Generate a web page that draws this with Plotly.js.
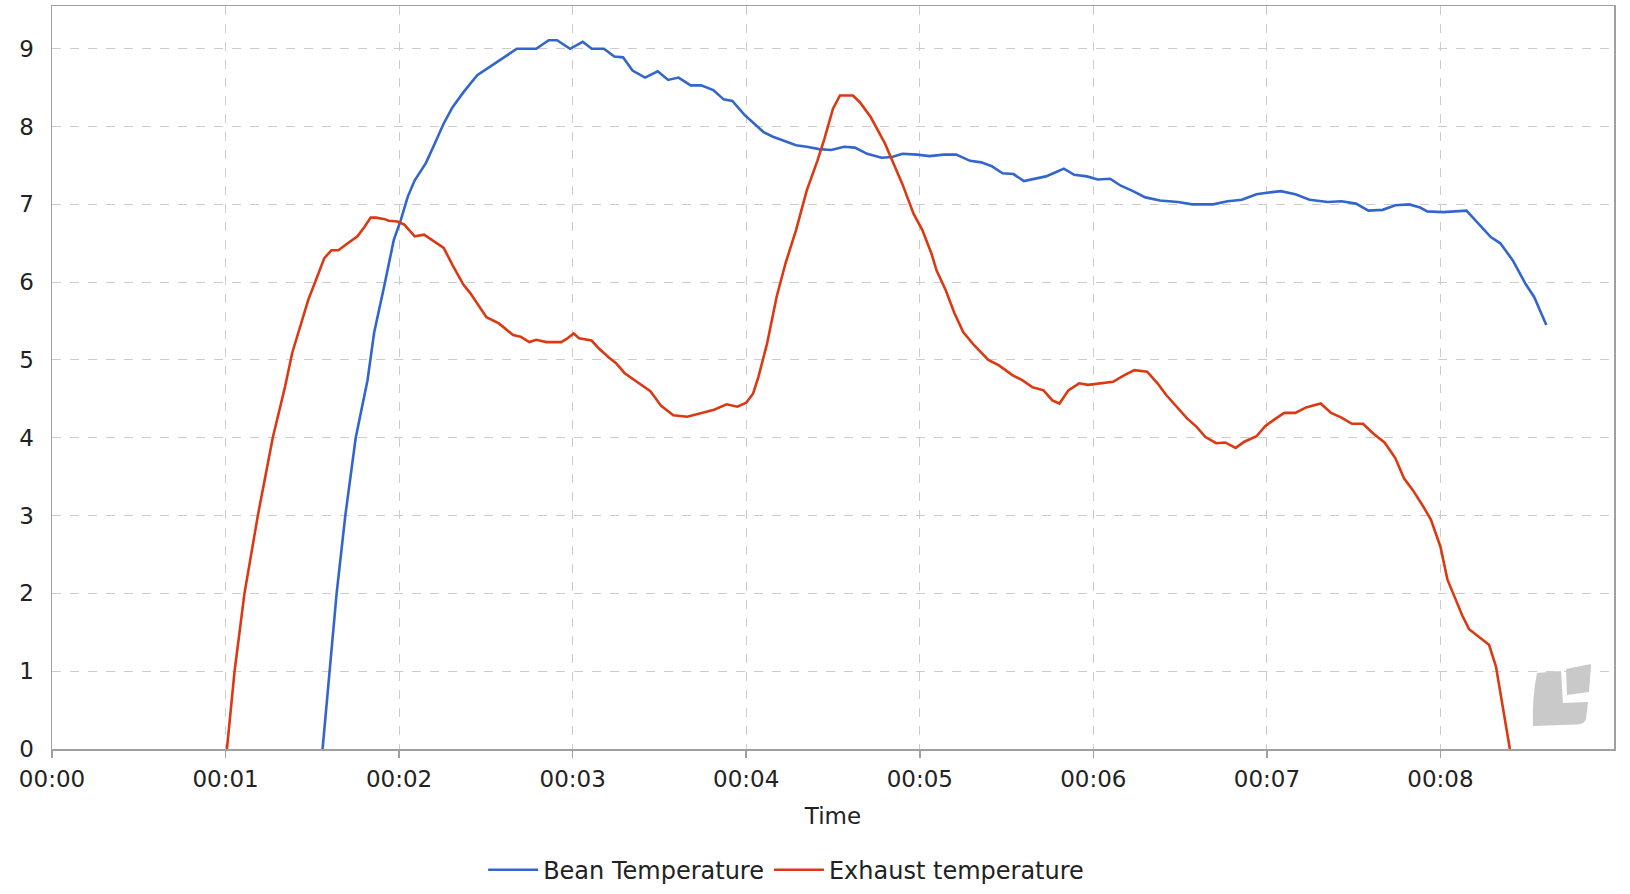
<!DOCTYPE html>
<html>
<head>
<meta charset="utf-8">
<script src="https://cdn.plot.ly/plotly-3.0.1.min.js"></script>
<style>
  html, body { margin: 0; padding: 0; background: #fff; }
  #chart { width: 1630px; height: 894px; }
</style>
</head>
<body>
<div id="chart"></div>
<script>
// ---- Data (time in seconds) ----
const tickValues = [0, 1, 2, 3, 4, 5, 6, 7, 8];
const tickLabels = ["00:00", "00:01", "00:02", "00:03", "00:04", "00:05", "00:06", "00:07", "00:08"];

const beanTime = [1.559,1.598,1.64,1.69,1.75,1.818,1.856,1.918,1.969,2.01,2.05,2.09,2.154,2.205,2.257,2.308,2.37,2.45,2.554,2.678,2.79,2.862,2.91,2.985,3.058,3.11,3.18,3.24,3.29,3.345,3.417,3.49,3.55,3.61,3.68,3.74,3.81,3.87,3.92,3.99,4.05,4.10,4.154,4.215,4.287,4.349,4.42,4.49,4.564,4.626,4.697,4.78,4.84,4.90,4.985,5.056,5.138,5.21,5.29,5.354,5.415,5.477,5.54,5.60,5.655,5.727,5.78,5.83,5.89,5.963,6.025,6.097,6.158,6.22,6.30,6.384,6.487,6.57,6.69,6.774,6.856,6.94,7.0,7.08,7.164,7.246,7.35,7.43,7.513,7.585,7.667,7.74,7.82,7.883,7.924,8.016,8.15,8.21,8.29,8.345,8.417,8.49,8.54,8.61];
const beanTemp = [0,1,2,3,4,4.74,5.35,5.99,6.54,6.80,7.10,7.31,7.53,7.78,8.04,8.25,8.44,8.66,8.81,9.0,9.0,9.11,9.11,9.0,9.09,9.0,9.0,8.90,8.89,8.72,8.63,8.71,8.60,8.63,8.53,8.53,8.47,8.35,8.33,8.15,8.03,7.93,7.87,7.82,7.76,7.74,7.71,7.70,7.74,7.73,7.65,7.60,7.61,7.65,7.64,7.62,7.64,7.64,7.56,7.54,7.49,7.40,7.39,7.30,7.33,7.36,7.41,7.46,7.38,7.36,7.32,7.33,7.24,7.18,7.09,7.05,7.03,7.0,7.0,7.04,7.06,7.13,7.15,7.17,7.13,7.06,7.03,7.04,7.01,6.92,6.93,6.99,7.0,6.96,6.91,6.90,6.92,6.77,6.58,6.50,6.28,5.98,5.81,5.45];

const exhaustTime = [1.008,1.052,1.109,1.186,1.272,1.343,1.384,1.435,1.476,1.528,1.569,1.61,1.65,1.71,1.76,1.80,1.836,1.867,1.918,1.94,1.99,2.03,2.09,2.144,2.205,2.257,2.308,2.37,2.41,2.45,2.503,2.575,2.657,2.70,2.75,2.79,2.85,2.934,2.965,3.006,3.037,3.109,3.15,3.21,3.25,3.30,3.365,3.448,3.51,3.58,3.66,3.745,3.815,3.887,3.949,4.0,4.04,4.07,4.12,4.175,4.226,4.287,4.349,4.41,4.45,4.50,4.54,4.615,4.656,4.718,4.76,4.80,4.85,4.90,4.964,5.015,5.067,5.097,5.149,5.20,5.25,5.313,5.395,5.456,5.538,5.59,5.65,5.713,5.764,5.805,5.856,5.918,5.97,6.05,6.113,6.174,6.236,6.31,6.37,6.42,6.48,6.54,6.595,6.646,6.708,6.76,6.82,6.87,6.94,6.99,7.04,7.10,7.164,7.226,7.31,7.37,7.43,7.49,7.554,7.616,7.678,7.74,7.79,7.84,7.90,7.945,8.0,8.04,8.088,8.127,8.165,8.232,8.28,8.32,8.347,8.376,8.40];
const exhaustTemp = [0,1,2,3,4,4.66,5.09,5.47,5.77,6.07,6.31,6.41,6.41,6.51,6.59,6.71,6.83,6.83,6.81,6.79,6.78,6.74,6.59,6.61,6.52,6.44,6.22,5.97,5.86,5.73,5.55,5.47,5.32,5.30,5.23,5.26,5.23,5.23,5.27,5.34,5.28,5.25,5.15,5.03,4.96,4.83,4.73,4.60,4.41,4.29,4.27,4.32,4.36,4.43,4.40,4.45,4.57,4.78,5.21,5.81,6.24,6.67,7.18,7.56,7.84,8.23,8.40,8.40,8.31,8.12,7.95,7.78,7.52,7.26,6.88,6.67,6.37,6.15,5.90,5.60,5.36,5.19,5.0,4.93,4.80,4.74,4.65,4.61,4.48,4.44,4.61,4.70,4.68,4.70,4.72,4.80,4.87,4.85,4.70,4.55,4.40,4.25,4.14,4.01,3.93,3.94,3.87,3.95,4.02,4.15,4.23,4.32,4.32,4.39,4.44,4.32,4.26,4.18,4.18,4.05,3.94,3.74,3.48,3.33,3.12,2.95,2.6,2.18,1.92,1.71,1.54,1.43,1.34,1.06,0.72,0.33,0];

const seriesNames = ["Bean Temperature", "Exhaust temperature"];
const seriesColors = ["#3366cc", "#dc3912"];

// ---- Chart ----
const FONT = "DejaVu Sans, sans-serif";
const FS = 23;

const traces = [
  { x: beanTime, y: beanTemp, name: seriesNames[0], type: "scatter", mode: "lines",
    line: { color: seriesColors[0], width: 2.6 } },
  { x: exhaustTime, y: exhaustTemp, name: seriesNames[1], type: "scatter", mode: "lines",
    line: { color: seriesColors[1], width: 2.6 } }
];

const logoColor = "#c9c9c9";
const layout = {
  width: 1630, height: 894,
  margin: { l: 52, r: 16, t: 6, b: 145, autoexpand: false },
  paper_bgcolor: "#ffffff",
  plot_bgcolor: "#ffffff",
  font: { family: FONT, size: FS, color: "#222222" },
  showlegend: true,
  legend: {
    orientation: "h", x: 0.47, xanchor: "center", y: -0.163, yanchor: "middle",
    itemwidth: 50,
    font: { family: FONT, size: 24, color: "#222222" }, tracegroupgap: 0
  },
  xaxis: {
    range: [0, 9], tickvals: tickValues, ticktext: tickLabels,
    showgrid: true, gridcolor: "#cccccc", griddash: "dash", gridwidth: 1,
    showline: true, linecolor: "#a0a0a0", linewidth: 1.5, mirror: true,
    ticks: "outside", ticklen: 7, tickcolor: "#a0a0a0", tickwidth: 1.5,
    zeroline: false, fixedrange: true, ticklabelstandoff: 2, automargin: false,
    tickfont: { family: FONT, size: FS, color: "#222222" },
    title: { text: "Time", font: { family: FONT, size: FS, color: "#222222" }, standoff: 17 }
  },
  yaxis: {
    range: [0, 9.55], tickvals: [0,1,2,3,4,5,6,7,8,9],
    showgrid: true, gridcolor: "#cccccc", griddash: "dash", gridwidth: 1,
    showline: true, linecolor: "#a0a0a0", linewidth: 1.5, mirror: true,
    ticks: "", zeroline: false, fixedrange: true, ticklabelstandoff: 12, automargin: false,
    tickfont: { family: FONT, size: FS, color: "#222222" }
  },
  shapes: [
    { type: "path", xref: "paper", yref: "paper", layer: "above",
      path: "M 0.9507 0.1023 L 0.9661 0.1050 L 0.9673 0.0619 L 0.9834 0.0633 L 0.9821 0.0417 Q 0.9815 0.0330 0.9760 0.0330 L 0.9481 0.0310 Q 0.9475 0.0700 0.9507 0.1023 Z",
      fillcolor: logoColor, line: { width: 0 } },
    { type: "path", xref: "paper", yref: "paper", layer: "above",
      path: "M 0.9693 0.1077 L 0.9853 0.1144 L 0.9840 0.0767 L 0.9699 0.0727 Z",
      fillcolor: logoColor, line: { width: 0 } }
  ]
};

Plotly.newPlot("chart", traces, layout, { displayModeBar: false, staticPlot: true });
</script>
</body>
</html>
